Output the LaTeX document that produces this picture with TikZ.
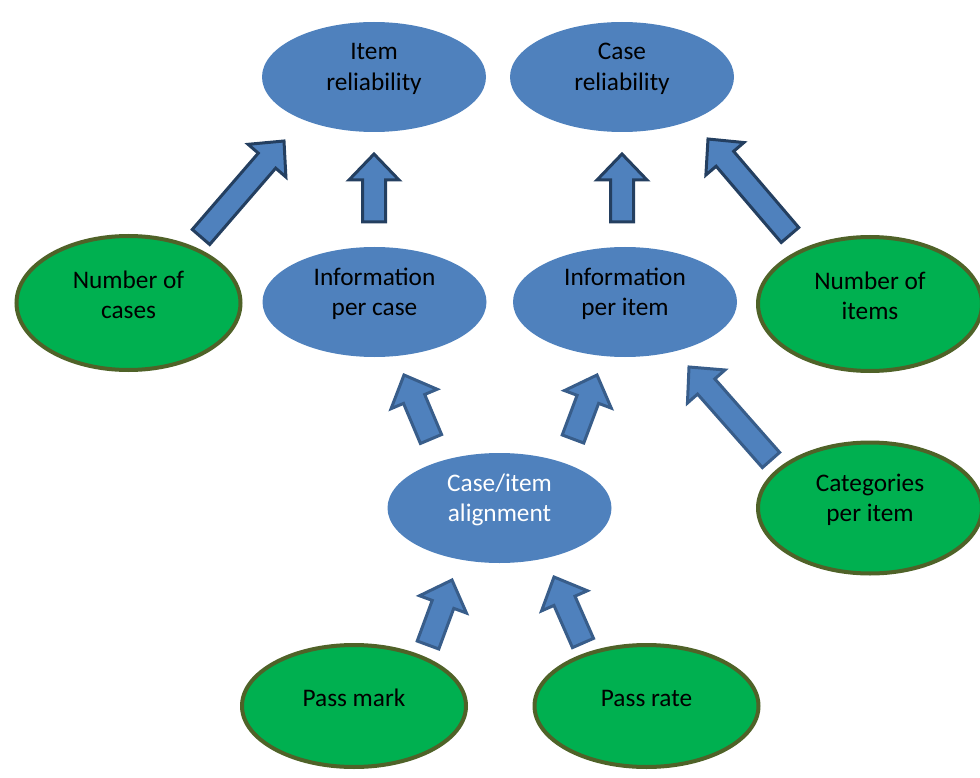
\documentclass[tikz,border=0pt]{standalone}
\usepackage{fontspec}
\setmainfont{Carlito}
\usetikzlibrary{shapes.geometric,calc}
\definecolor{blu}{HTML}{4F81BD}
\definecolor{grn}{HTML}{00B050}
\definecolor{olv}{HTML}{4F6228}
\definecolor{darkarr}{HTML}{243F60}
\definecolor{midarr}{HTML}{385D8A}
\tikzset{
 blueell/.style={ellipse, fill=blu, minimum width=224pt, minimum height=110pt, inner sep=0pt},
 greenell/.style={ellipse, fill=grn, draw=olv, line width=4pt, minimum width=224pt, minimum height=134pt, inner sep=0pt},
 lbl/.style={align=center, font=\fontsize{25.3}{30.5}\selectfont, inner sep=0pt},
 arrA/.style={fill=blu, draw=darkarr, line width=3pt, line join=miter},
 arrB/.style={fill=blu, draw=midarr, line width=3pt, line join=miter},
}
\newcommand\blockarrow[3]{%
 \coordinate (ba-n) at ($(#3)!26pt!(#2)$);
 \draw[#1] ($(#2)!11.5pt!90:(#3)$) -- ($(ba-n)!11.5pt!90:(#3)$) -- ($(ba-n)!25pt!90:(#3)$) -- (#3) -- ($(ba-n)!25pt!-90:(#3)$) -- ($(ba-n)!11.5pt!-90:(#3)$) -- ($(#2)!11.5pt!-90:(#3)$) -- cycle;}
\begin{document}
\begin{tikzpicture}[x=1pt,y=-1pt]
\useasboundingbox (0,0) rectangle (980,778);
% ellipses
\node[blueell] (ir) at (374,77) {};
\node[blueell] (cr) at (622,77) {};
\node[blueell] (ipc) at (374.5,302) {};
\node[blueell] (ipi) at (625,302) {};
\node[blueell] (cia) at (499.5,508) {};
\node[greenell] (noc) at (128.5,303) {};
\node[greenell] (noi) at (870,304) {};
\node[greenell, minimum height=131pt] (cpi) at (870,508) {};
\node[greenell, minimum height=122pt] (pm) at (354,706) {};
\node[greenell, minimum height=122pt] (pr) at (646.5,706) {};
% labels
\node[lbl] (ir-t) at ($(ir)+(0,-8)$) {Item\\reliability};
\node[lbl] (cr-t) at ($(cr)+(0,-8)$) {Case\\reliability};
\node[lbl] (ipc-t) at ($(ipc)+(0,-8)$) {Information\\per case};
\node[lbl] (ipi-t) at ($(ipi)+(0,-8)$) {Information\\per item};
\node[lbl, text=white] (cia-t) at ($(cia)+(0,-8)$) {Case/item\\alignment};
\node[lbl] (noc-t) at ($(noc)+(0,-8)$) {Number of\\cases};
\node[lbl] (noi-t) at ($(noi)+(0,-8)$) {Number of\\items};
\node[lbl] (cpi-t) at ($(cpi)+(0,-8)$) {Categories\\per item};
\node[lbl] (pm-t) at ($(pm)+(0,-8)$) {Pass mark};
\node[lbl] (pr-t) at ($(pr)+(0,-8)$) {Pass rate};
% arrow end points
\coordinate (a1t) at (201,237); \coordinate (a1h) at (284,141);
\coordinate (a2t) at (374,222); \coordinate (a2h) at (374,154);
\coordinate (a3t) at (622,222); \coordinate (a3h) at (622,154);
\coordinate (a4t) at (790,235); \coordinate (a4h) at (708,139);
\coordinate (a5t) at (431,439); \coordinate (a5h) at (404,375);
\coordinate (a6t) at (573,439); \coordinate (a6h) at (597,375);
\coordinate (a7t) at (771,460); \coordinate (a7h) at (689,367);
\coordinate (a8t) at (428,645); \coordinate (a8h) at (452,580);
\coordinate (a9t) at (583,643); \coordinate (a9h) at (554,577);
% arrows
\blockarrow{arrA}{a1t}{a1h}
\blockarrow{arrA}{a2t}{a2h}
\blockarrow{arrA}{a3t}{a3h}
\blockarrow{arrA}{a4t}{a4h}
\blockarrow{arrB}{a5t}{a5h}
\blockarrow{arrB}{a6t}{a6h}
\blockarrow{arrB}{a7t}{a7h}
\blockarrow{arrB}{a8t}{a8h}
\blockarrow{arrB}{a9t}{a9h}
\end{tikzpicture}
\end{document}
